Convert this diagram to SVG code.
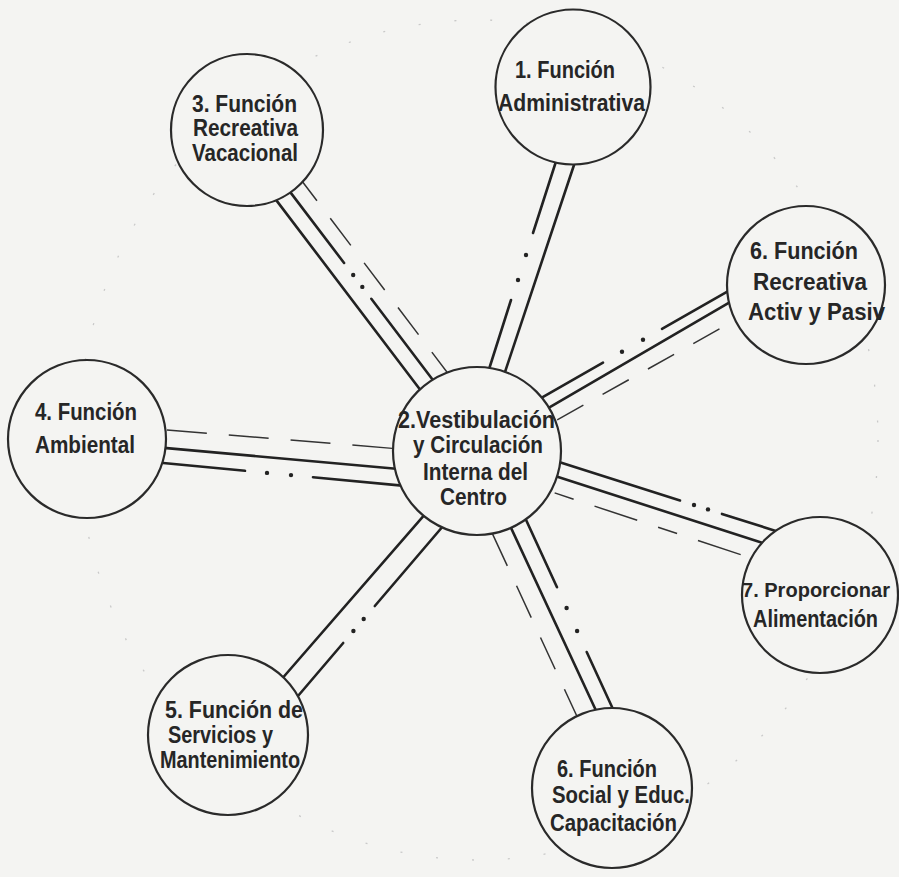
<svg xmlns="http://www.w3.org/2000/svg" width="899" height="877" viewBox="0 0 899 877">
<style>
.bg{fill:#f4f4f2}
.node circle{fill:#f4f4f2;stroke:#2a2a2a;stroke-width:2.2}
.lbl{font-family:"Liberation Sans",Arial,sans-serif;font-size:23px;font-weight:bold;fill:#262626}
.s{stroke:#222;stroke-width:2.6;stroke-linecap:round;fill:none}
.d{stroke:#333;stroke-width:1.5;fill:none;stroke-dasharray:34 22}
.dot{fill:#222}
.halo{fill:none;stroke:#c9c9c9;stroke-width:1.3;stroke-dasharray:2 34}
</style>
<rect class="bg" x="0" y="0" width="899" height="877"/>
<ellipse class="halo" cx="478" cy="440" rx="400" ry="420"/>
<g id="connectors">
  <g id="c1">
    <line class="s" x1="560" y1="149" x2="533" y2="233"/>
    <circle class="dot" cx="526" cy="255" r="2.2"/>
    <circle class="dot" cx="518" cy="280" r="2.2"/>
    <line class="s" x1="511" y1="300" x2="484" y2="385"/>
    <line class="s" x1="578" y1="153" x2="501" y2="384"/>
  </g>
  <g id="c3">
    <line class="s" x1="270.9" y1="193.1" x2="431" y2="404"/>
    <line class="s" x1="283.6" y1="183.4" x2="344.1" y2="263"/>
    <circle class="dot" cx="353.2" cy="275" r="2.2"/>
    <circle class="dot" cx="362.3" cy="286.9" r="2.2"/>
    <line class="s" x1="371.3" y1="298.8" x2="443.7" y2="394.3"/>
    <line class="d" x1="296.4" y1="173.7" x2="456.5" y2="384.6"/>
  </g>
  <g id="c6r">
    <line class="s" x1="530" y1="404.4" x2="603" y2="362.7"/>
    <circle class="dot" cx="622" cy="351.8" r="2.2"/>
    <circle class="dot" cx="643" cy="339.8" r="2.2"/>
    <line class="s" x1="662" y1="328.9" x2="740" y2="284.3"/>
    <line class="s" x1="537" y1="414.6" x2="745" y2="293.3"/>
    <line class="d" x1="545" y1="426.7" x2="745" y2="314.6" style="stroke-dasharray:30 22;stroke-dashoffset:-14"/>
  </g>
  <g id="c4">
    <line class="s" x1="150" y1="446.6" x2="410" y2="470"/>
    <line class="s" x1="150" y1="461.8" x2="245" y2="470.8"/>
    <circle class="dot" cx="267" cy="472.9" r="2.2"/>
    <circle class="dot" cx="291" cy="475.1" r="2.2"/>
    <line class="s" x1="313" y1="477.2" x2="410" y2="486.4"/>
    <line class="d" x1="160" y1="429.4" x2="395" y2="448.6" style="stroke-dasharray:40 22;stroke-dashoffset:-7"/>
  </g>
  <g id="c7">
    <line class="s" x1="548" y1="458.6" x2="680" y2="500.5"/>
    <circle class="dot" cx="694" cy="505" r="2.2"/>
    <circle class="dot" cx="708" cy="509.4" r="2.2"/>
    <line class="s" x1="722" y1="513.9" x2="790" y2="535.4"/>
    <line class="s" x1="545" y1="472.8" x2="780" y2="548.5"/>
    <line class="d" x1="548" y1="490.7" x2="760" y2="561" style="stroke-dasharray:20 22 45 22;stroke-dashoffset:-7"/>
  </g>
  <g id="c6s">
    <line class="s" x1="505" y1="515" x2="609.7" y2="740"/>
    <line class="s" x1="519.2" y1="505" x2="557" y2="587.2"/>
    <circle class="dot" cx="566.6" cy="608" r="2.2"/>
    <circle class="dot" cx="577.1" cy="631" r="2.2"/>
    <line class="s" x1="586.7" y1="652" x2="627.2" y2="740"/>
    <line class="d" x1="488.4" y1="525" x2="585.6" y2="735" style="stroke-dasharray:35 22;stroke-dashoffset:-10"/>
  </g>
  <g id="c5">
    <line class="s" x1="433" y1="505" x2="272.2" y2="690"/>
    <line class="s" x1="452.5" y1="515" x2="374.8" y2="606"/>
    <circle class="dot" cx="363.7" cy="619" r="2.2"/>
    <circle class="dot" cx="353.4" cy="631" r="2.2"/>
    <line class="s" x1="343.2" y1="643" x2="290.3" y2="705"/>
  </g>
</g>
<g id="n1" class="node">
  <circle cx="573" cy="87" r="77.5"/>
  <text class="lbl" x="515" y="78" textLength="100" lengthAdjust="spacingAndGlyphs">1. Función</text>
  <text class="lbl" x="498" y="111" textLength="147" lengthAdjust="spacingAndGlyphs">Administrativa</text>
</g>
<g id="n3" class="node">
  <circle cx="247" cy="130" r="76"/>
  <text class="lbl" x="192" y="112" textLength="105" lengthAdjust="spacingAndGlyphs">3. Función</text>
  <text class="lbl" x="193" y="136" textLength="105" lengthAdjust="spacingAndGlyphs">Recreativa</text>
  <text class="lbl" x="192" y="161" textLength="106" lengthAdjust="spacingAndGlyphs">Vacacional</text>
</g>
<g id="n6r" class="node">
  <circle cx="806" cy="285" r="79"/>
  <text class="lbl" x="750" y="259" textLength="108" lengthAdjust="spacingAndGlyphs">6. Función</text>
  <text class="lbl" x="753" y="290" textLength="114" lengthAdjust="spacingAndGlyphs">Recreativa</text>
  <text class="lbl" x="748" y="320" textLength="137" lengthAdjust="spacingAndGlyphs">Activ y Pasiv</text>
</g>
<g id="n4" class="node">
  <circle cx="87" cy="439" r="79"/>
  <text class="lbl" x="35" y="420" textLength="102" lengthAdjust="spacingAndGlyphs">4. Función</text>
  <text class="lbl" x="35" y="453" textLength="100" lengthAdjust="spacingAndGlyphs">Ambiental</text>
</g>
<g id="n2" class="node">
  <circle cx="477" cy="451" r="84"/>
  <text class="lbl" x="398" y="428" textLength="157" lengthAdjust="spacingAndGlyphs">2.Vestibulación</text>
  <text class="lbl" x="413" y="453" textLength="130" lengthAdjust="spacingAndGlyphs">y Circulación</text>
  <text class="lbl" x="423" y="480" textLength="105" lengthAdjust="spacingAndGlyphs">Interna del</text>
  <text class="lbl" x="440" y="505" textLength="67" lengthAdjust="spacingAndGlyphs">Centro</text>
</g>
<g id="n7" class="node">
  <circle cx="820" cy="595" r="78"/>
  <text class="lbl" x="742" y="597" style="font-size:20px" textLength="148" lengthAdjust="spacingAndGlyphs">7. Proporcionar</text>
  <text class="lbl" x="753" y="627" textLength="125" lengthAdjust="spacingAndGlyphs">Alimentación</text>
</g>
<g id="n5" class="node">
  <circle cx="228" cy="735" r="80"/>
  <text class="lbl" x="165" y="718" textLength="138" lengthAdjust="spacingAndGlyphs">5. Función de</text>
  <text class="lbl" x="168" y="743" textLength="105" lengthAdjust="spacingAndGlyphs">Servicios y</text>
  <text class="lbl" x="160" y="768" textLength="140" lengthAdjust="spacingAndGlyphs">Mantenimiento</text>
</g>
<g id="n6s" class="node">
  <circle cx="612" cy="788" r="80"/>
  <text class="lbl" x="557" y="777" textLength="100" lengthAdjust="spacingAndGlyphs">6. Función</text>
  <text class="lbl" x="552" y="803" textLength="138" lengthAdjust="spacingAndGlyphs">Social y Educ.</text>
  <text class="lbl" x="550" y="831" textLength="127" lengthAdjust="spacingAndGlyphs">Capacitación</text>
</g>
</svg>
